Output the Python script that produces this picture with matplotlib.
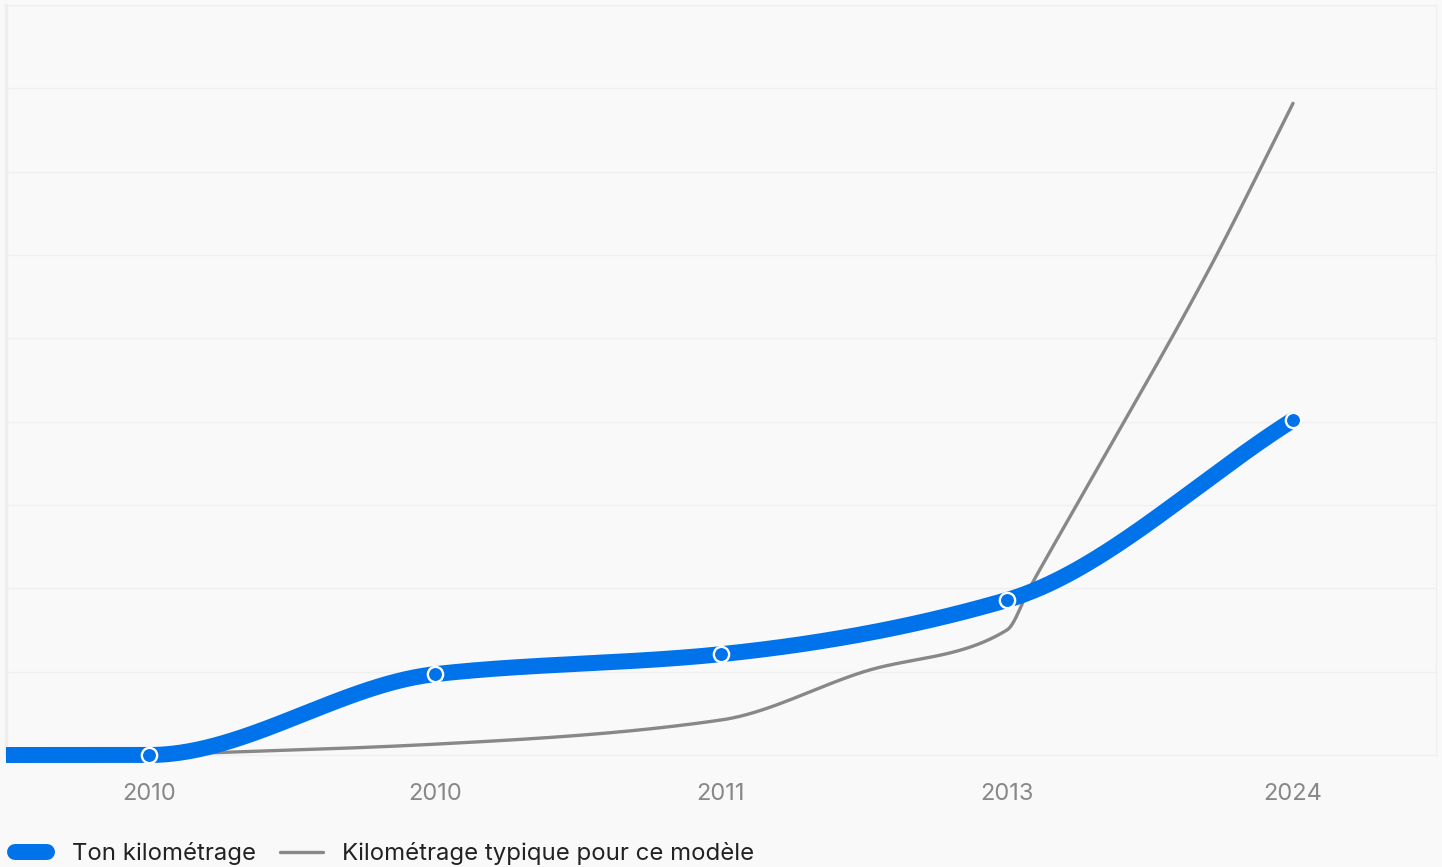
import numpy as np
import matplotlib
matplotlib.use("Agg")
import matplotlib.pyplot as plt
from matplotlib.lines import Line2D
from matplotlib.patches import Rectangle

# ---- data ----
categories = ["2010", "2010", "2011", "2013", "2024"]
blue_x = [-0.5, 0, 1, 2, 3, 4]          # category positions (first = left edge start)
blue_vals = [0.0, 0.0, 0.97, 1.21, 1.86, 4.02]
gray_x = [0, 1, 2, 2.5, 3, 3.08, 3.26, 3.71, 4]
gray_vals = [0.0, 0.13, 0.42, 1.0, 1.5, 2.01, 3.1, 5.85, 7.82]
label_blue = "Ton kilométrage"
label_gray = "Kilométrage typique pour ce modèle"

BLUE = "#0073ea"
GRAY = "#888888"
BG = "#f9f9f9"
GRID = "#efefef"


def pchip(x, y, n=600):
    x = np.asarray(x, float)
    y = np.asarray(y, float)
    h = np.diff(x)
    d = np.diff(y) / h
    m = np.zeros_like(y)
    for k in range(1, len(x) - 1):
        if d[k - 1] * d[k] <= 0:
            m[k] = 0
        else:
            w1 = 2 * h[k] + h[k - 1]
            w2 = h[k] + 2 * h[k - 1]
            m[k] = (w1 + w2) / (w1 / d[k - 1] + w2 / d[k])
    m[0] = d[0]
    m[-1] = d[-1]
    xs = np.linspace(x[0], x[-1], n)
    ys = np.empty_like(xs)
    for i, xv in enumerate(xs):
        k = min(np.searchsorted(x, xv, side="right") - 1, len(x) - 2)
        t = (xv - x[k]) / h[k]
        h00 = 2 * t**3 - 3 * t**2 + 1
        h10 = t**3 - 2 * t**2 + t
        h01 = -2 * t**3 + 3 * t**2
        h11 = t**3 - t**2
        ys[i] = h00 * y[k] + h10 * h[k] * m[k] + h01 * y[k + 1] + h11 * h[k] * m[k + 1]
    return xs, ys


plt.rcParams["font.family"] = ["Inter", "DejaVu Sans"]

fig = plt.figure(figsize=(14.42, 8.67), dpi=100, facecolor=BG)
ax = fig.add_axes([6 / 1442, 112 / 867, 1430 / 1442, 750 / 867])
ax.set_facecolor(BG)

ax.set_xlim(-0.5, 4.5)
ax.set_ylim(0, 9)
ax.set_yticks(np.arange(0, 10, 1))
ax.set_yticklabels([])
ax.tick_params(axis="y", length=0)
ax.grid(axis="y", color=GRID, linewidth=1)
ax.set_axisbelow(True)
ax.set_xticks(range(len(categories)))
ax.set_xticklabels(categories, fontsize=17, color=GRAY)
ax.tick_params(axis="x", length=0, pad=20)
for s in ["top", "right", "bottom"]:
    ax.spines[s].set_color(GRID)
    ax.spines[s].set_linewidth(1)
ax.spines["left"].set_color("#eeeeee")
ax.spines["left"].set_linewidth(2.5)

clip = Rectangle((0, -0.05), 1, 1.1, transform=ax.transAxes, facecolor="none", edgecolor="none")
ax.add_patch(clip)

gx, gy = pchip(gray_x, gray_vals)
ax.plot(gx, gy, color=GRAY, lw=2.4, solid_capstyle="round", zorder=3)

bx, by = pchip(blue_x, blue_vals)
bl, = ax.plot(bx, by, color=BLUE, lw=11.5, solid_capstyle="round", zorder=4)
bl.set_clip_path(clip)
ax.plot(blue_x[1:], blue_vals[1:], "o", ms=11, mfc=BLUE, mec="white", mew=1.7,
        zorder=5, clip_on=False)

# legend (manual)
fig.add_artist(Line2D([15 / 1442, 47 / 1442], [15 / 867, 15 / 867], color=BLUE, lw=11.5,
                      solid_capstyle="round", transform=fig.transFigure))
fig.text(72 / 1442, 7 / 867, label_blue, fontsize=17.25, color="#222222", va="baseline", ha="left")
fig.add_artist(Line2D([280 / 1442, 323 / 1442], [15 / 867, 15 / 867], color=GRAY, lw=2.4,
                      solid_capstyle="round", transform=fig.transFigure))
fig.text(342 / 1442, 7 / 867, label_gray, fontsize=17.25, color="#222222", va="baseline", ha="left")

fig.savefig("out.png", dpi=100, facecolor=BG)
